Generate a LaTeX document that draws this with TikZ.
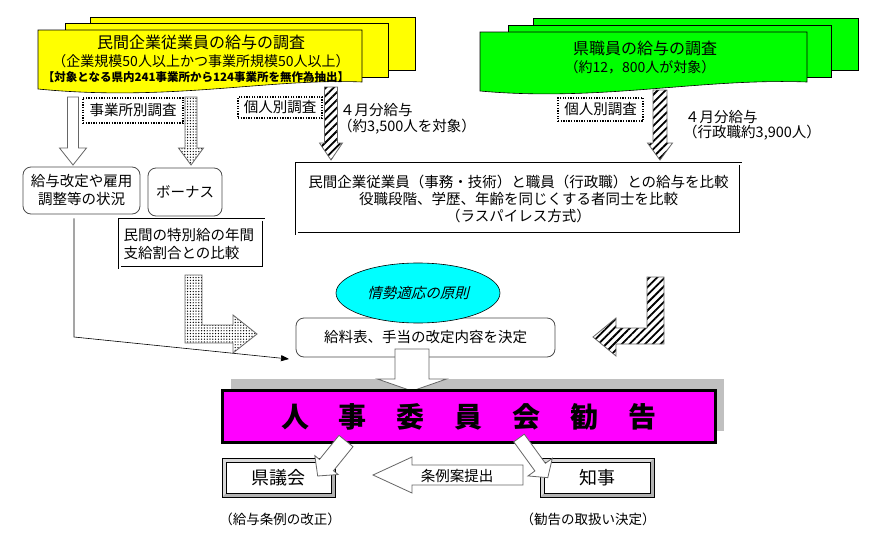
\documentclass[tikz,border=0pt]{standalone}
\usepackage{fontspec}
\setmainfont{Noto Sans CJK JP}
\newfontfamily\slantfont{Noto Sans CJK JP}[FakeSlant=0.25]
\usetikzlibrary{patterns.meta,arrows.meta,shapes.geometric}
\definecolor{yel}{HTML}{FFFF00}
\definecolor{grn}{HTML}{00FF00}
\definecolor{cya}{HTML}{00FFFF}
\definecolor{mag}{HTML}{FF00FF}
\definecolor{shadowgray}{HTML}{C0C0C0}
\tikzset{
  pics/barrow/.style args={#1/#2/#3/#4}{code={
    \path[pic actions] (0,-#2) -- ({#1-#4},-#2) -- ({#1-#4},-#3) -- (#1,0) -- ({#1-#4},#3) -- ({#1-#4},#2) -- (0,#2) -- cycle;}},
  hollow/.style={draw=black!60, fill=white, line width=0.8pt},
  hatch/.style={draw=black!60, line width=0.8pt, preaction={fill=white},
    pattern={Lines[angle=45,distance=5.5pt,line width=1.8pt]}, pattern color=black},
  dotpat/.style={draw=black!60, line width=0.8pt, preaction={fill=white},
    pattern={Dots[distance=2.8pt,radius=0.7pt]}, pattern color=black},
  tA/.style={font=\fontsize{14.5}{18}\selectfont},
  lbl/.style={draw, line width=1.3pt, dash pattern=on 1.3pt off 1.3pt, fill=white,
    inner sep=0pt, tA},
  rbox/.style={draw=black!70, line width=0.8pt, fill=white, rounded corners=8pt, inner sep=0pt, tA, align=center},
  dbox/.style={draw, line width=0.6pt, double, double distance=2pt, fill=white, inner sep=0pt, tA},
  bevel/.style={draw=black, line width=0.6pt, fill=black!30, inner sep=0pt,
    minimum width=113pt, minimum height=39pt, font=\fontsize{18}{20}\selectfont,
    path picture={
      \fill[white!85!black] (path picture bounding box.north west) -- (path picture bounding box.north east)
        -- ([shift={(-4pt,-4pt)}]path picture bounding box.north east)
        -- ([shift={(4pt,4pt)}]path picture bounding box.south west)
        -- (path picture bounding box.south west) -- cycle;
      \draw[fill=white, line width=0.6pt] ([shift={(4pt,4pt)}]path picture bounding box.south west)
        rectangle ([shift={(-4pt,-4pt)}]path picture bounding box.north east);
    }},
}
\begin{document}
\begin{tikzpicture}[x=1pt,y=-1pt]
\useasboundingbox[fill=white] (0,0) rectangle (889,538);

% yellow document stack
\draw[fill=yel, line width=0.6pt] (90,17) rectangle (415,70);
\draw[fill=yel, line width=0.6pt] (65,23) rectangle (388,77);
\draw[fill=yel, line width=0.6pt] (38,30) -- (362,30) -- (362,82)
  .. controls (270,78) and (170,102) .. (38,89) -- cycle;
\node[font=\fontsize{16}{18}\selectfont] (ytitle) at (201,42) {民間企業従業員の給与の調査};
\node[font=\fontsize{14}{16}\selectfont] (ysub) at (201,61) {（企業規模50人以上かつ事業所規模50人以上）};
\node[font=\fontsize{11.5}{13}\selectfont\bfseries] (ysub2) at (196,77) {【対象となる県内241事業所から124事業所を無作為抽出】};

% green document stack
\draw[fill=grn, line width=0.6pt] (533,18) rectangle (858,70);
\draw[fill=grn, line width=0.6pt] (508,25) rectangle (831,77);
\draw[fill=grn, line width=0.6pt] (480,32) -- (807,32) -- (807,82)
  .. controls (700,78) and (600,102) .. (480,91) -- cycle;
\node[font=\fontsize{16}{18}\selectfont] (gtitle) at (645,48) {県職員の給与の調査};
\node[font=\fontsize{14}{16}\selectfont] (gsub) at (640,67) {（約12，800人が対象）};

% arrows from the surveys
\pic[hollow, rotate=-90] at (73,97) {barrow=68/5.5/13.5/17};
\pic[dotpat, rotate=-90] at (191,97) {barrow=68/6/12.5/17};
\pic[hatch, rotate=-90] at (331,87) {barrow=73/6.5/11.5/17};
\pic[hatch, rotate=-90] at (660,90) {barrow=70/7/12.5/17};

\node[lbl, minimum width=100pt, minimum height=25pt] (lb1) at (133,110.5) {事業所別調査};
\node[lbl, minimum width=84pt, minimum height=21pt] (lb2) at (280,107.5) {個人別調査};
\node[lbl, minimum width=85pt, minimum height=23pt] (lb3) at (600.5,109.5) {個人別調査};

\node[tA, anchor=west, inner sep=0pt] (apr1) at (340,110) {４月分給与};
\node[tA, anchor=west, inner sep=0pt] (apr1b) at (338,127) {（約3,500人を対象）};
\node[tA, anchor=west, inner sep=0pt] (apr2) at (685,117) {４月分給与};
\node[tA, anchor=west, inner sep=0pt] (apr2b) at (683,133) {（行政職約3,900人）};

% comparison box
\node[dbox, minimum width=444pt, minimum height=70pt, align=center] (cmp) at (518.5,198.5)
  {民間企業従業員（事務・技術）と職員（行政職）との給与を比較\\[-1pt]
   役職段階、学歴、年齢を同じくする者同士を比較\\[-1pt]
   （ラスパイレス方式）};

% left boxes
\node[rbox, minimum width=117pt, minimum height=47pt] (b1) at (81.5,190.5) {給与改定や雇用\\調整等の状況};
\node[rbox, minimum width=74pt, minimum height=48pt] (b2) at (185,192) {ボーナス};
\node[dbox, minimum width=144pt, minimum height=48pt, text width=136pt, align=left] (b3) at (191.5,243.5)
  {民間の特別給の年間\\支給割合との比較};

% thin connector
\coordinate (lbend) at (74,337);
\coordinate (lend) at (289,359);
\draw[line width=0.6pt, -{Triangle[length=8pt,width=6pt]}] ([xshift=-7.5pt,yshift=-4pt]b1.south) -- (lbend) -- (lend);

% L-shaped arrows
\path[dotpat] (185,275) -- (202,275) -- (202,325) -- (233,325) -- (233,315) -- (257,334)
  -- (233,353) -- (233,343) -- (185,343) -- cycle;
\path[hatch] (647,277) -- (664,277) -- (664,344) -- (616,344) -- (616,356) -- (593,337)
  -- (616,318) -- (616,328) -- (647,328) -- cycle;

% decision box and ellipse
\node[rbox, minimum width=259pt, minimum height=39pt] (kettei) at (425.5,337.5) {給料表、手当の改定内容を決定};
\node[ellipse, draw, line width=0.6pt, fill=cya, minimum width=164pt, minimum height=60pt, inner sep=0pt,
  font=\fontsize{14.5}{18}\selectfont\slantfont] (gensoku) at (418,293) {情勢適応の原則};

% banner
\fill[shadowgray] (231,379) rectangle (724,431);
\pic[hollow, rotate=-90] at (412,349) {barrow=42/17/34.5/12};
\node[draw=black, line width=2.5pt, fill=mag, minimum width=493pt, minimum height=52pt, inner sep=0pt,
  font=\fontsize{28}{30}\selectfont\bfseries] (kankoku) at (469,416.5)
  {人\hspace{30pt}事\hspace{30pt}委\hspace{30pt}員\hspace{30pt}会\hspace{30pt}勧\hspace{30pt}告};

% bottom boxes
\node[bevel] (gikai) at (278.5,477.5) {県議会};
\node[bevel, minimum width=114pt] (chiji) at (597,477.5) {知事};

\pic[hollow, rotate=-129] at (346,441) {barrow=45/9/15/14};
\pic[hollow, rotate=-54] at (519,438) {barrow=49/6.5/15/13};
\pic[hollow, rotate=180] at (523,475) {barrow=150/10/18/39};
\node[tA, inner sep=0pt] (jorei) at (457,476) {条例案提出};

\node[font=\fontsize{13.5}{16}\selectfont, inner sep=0pt] (n1) at (280,519) {（給与条例の改正）};
\node[font=\fontsize{13.5}{16}\selectfont, inner sep=0pt] (n2) at (588,519) {（勧告の取扱い決定）};
\end{tikzpicture}
\end{document}
